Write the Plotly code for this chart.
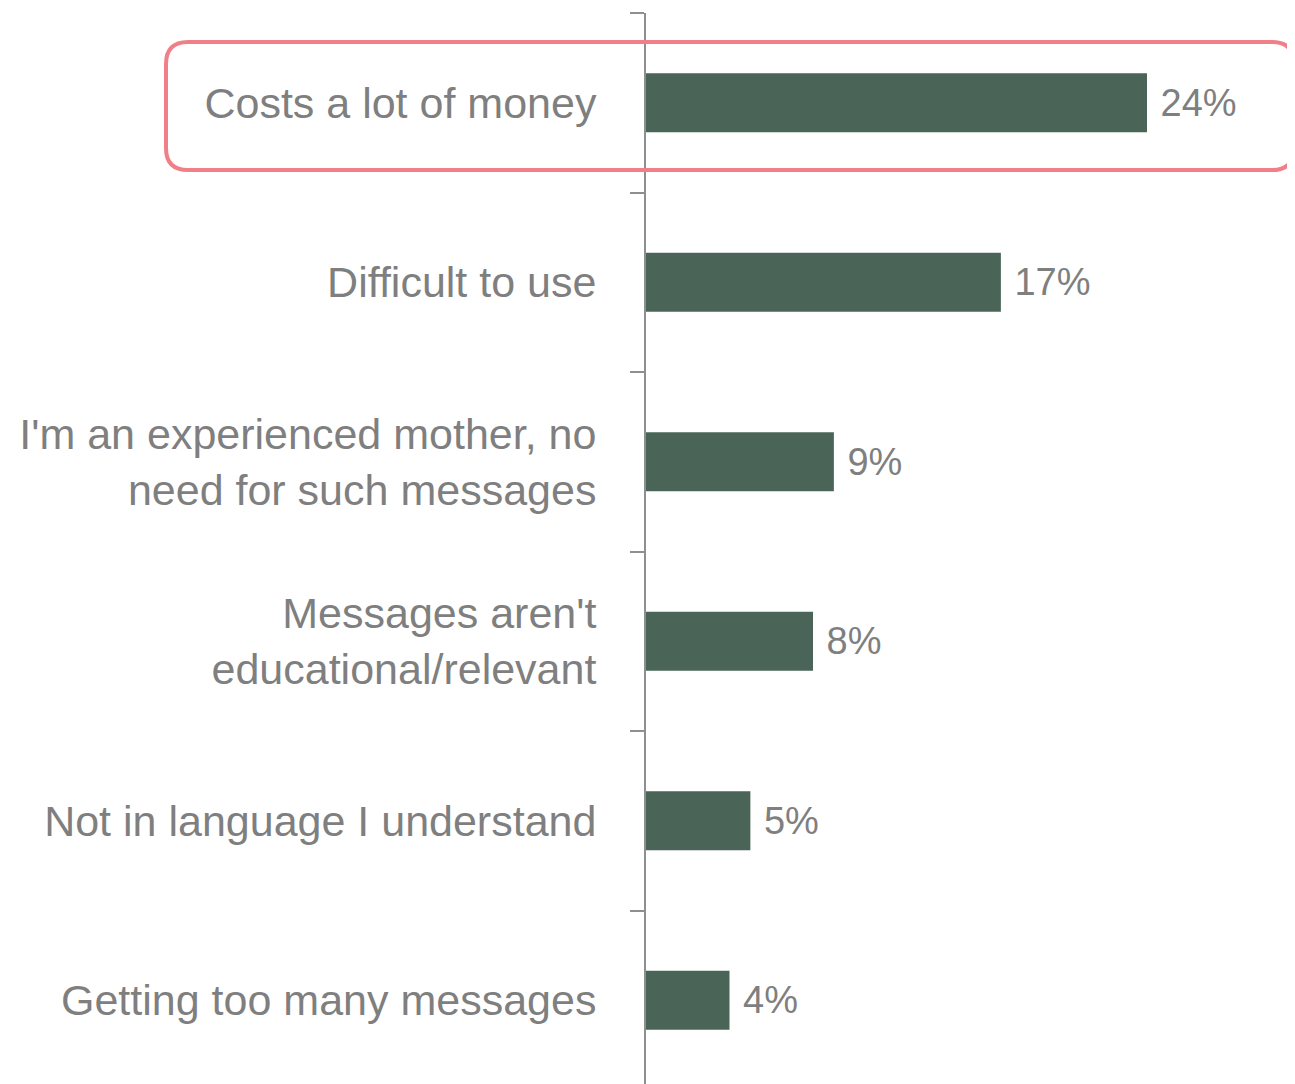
import plotly.graph_objects as go

categories = [
    "Costs a lot of money",
    "Difficult to use",
    "I'm an experienced mother, no<br>need for such messages",
    "Messages aren't<br>educational/relevant",
    "Not in language I understand",
    "Getting too many messages",
]
values = [24, 17, 9, 8, 5, 4]

OFF = 8  # page body offset
W, H = 1295, 1084
ML, MT = 646 - OFF, 13 - OFF
plot_w = W - ML
plot_h = H - MT
band = 179.5
px_per_pct = 20.875

fig = go.Figure(
    go.Bar(
        x=values,
        y=categories,
        orientation="h",
        marker=dict(color="#4a6558", line=dict(width=0)),
        width=0.33,
        texttemplate="\u00a0%{x}%",
        textposition="outside",
        textfont=dict(size=38, color="#7f7f7f", family="Arial, Liberation Sans"),
        cliponaxis=False,
        hoverinfo="skip",
    )
)

# rounded highlight box (paper coords, converted from screen pixels)
def px_x(sx):
    return (sx - OFF - ML) / plot_w

def px_y(sy):
    return (H - (sy - OFF)) / plot_h

x0, x1 = px_x(166), px_x(1294)
y1, y0 = px_y(42), px_y(170)
rx = 22 / plot_w
ry = 22 / plot_h
path = (
    f"M {x0+rx},{y1} L {x1-rx},{y1} Q {x1},{y1} {x1},{y1-ry} "
    f"L {x1},{y0+ry} Q {x1},{y0} {x1-rx},{y0} "
    f"L {x0+rx},{y0} Q {x0},{y0} {x0},{y0+ry} "
    f"L {x0},{y1-ry} Q {x0},{y1} {x0+rx},{y1} Z"
)
fig.add_shape(type="path", path=path, xref="paper", yref="paper",
              line=dict(color="#f07f88", width=4), fillcolor="rgba(0,0,0,0)", layer="above")

fig.update_layout(
    width=W,
    height=H,
    margin=dict(l=ML, r=0, t=MT, b=0, pad=0),
    paper_bgcolor="white",
    plot_bgcolor="white",
    showlegend=False,
    font=dict(family="Arial, Liberation Sans", color="#7f7f7f"),
    xaxis=dict(
        range=[0, plot_w / px_per_pct],
        visible=False,
        showgrid=False,
        zeroline=False,
    ),
    yaxis=dict(
        type="category",
        range=[-0.5 + plot_h / band, -0.5],
        autorange=False,
        showline=True,
        linecolor="#8f8f8f",
        linewidth=2,
        ticks="outside",
        tickson="boundaries",
        ticklen=14,
        tickwidth=2,
        tickcolor="#8f8f8f",
        tickfont=dict(size=43, color="#7f7f7f", family="Arial, Liberation Sans"),
        ticklabelstandoff=39,
        showgrid=False,
        zeroline=False,
    ),
)

fig.write_html("out.html")
